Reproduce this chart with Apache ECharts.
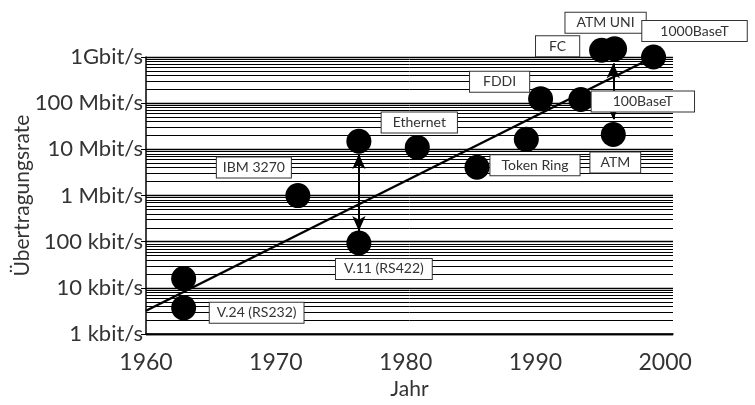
<!DOCTYPE html>
<html>
<head>
<meta charset="utf-8">
<script src="https://cdn.jsdelivr.net/npm/echarts@6/dist/echarts.min.js"></script>
<style>
html,body{margin:0;padding:0;background:#fff;}
#chart{width:755px;height:405px;}
</style>
</head>
<body>
<div id="chart"></div>
<script>
// ---- data ----
const names = ['V.24 (RS232)', '', 'IBM 3270', 'V.11 (RS422)', '', 'Ethernet', 'Token Ring', '', 'FDDI', '100BaseT', 'ATM', 'FC', 'ATM UNI', '1000BaseT'];
const years = [1962.9, 1962.9, 1971.7, 1976.4, 1976.4, 1980.9, 1985.5, 1989.3, 1990.4, 1993.5, 1996.0, 1995.1, 1996.1, 1999.1];
const rates = [3.7e3, 16e3, 1.0e6, 9.4e4, 15e6, 11e6, 4.1e6, 16.5e6, 124e6, 120e6, 21e6, 1.4e9, 1.5e9, 1.0e9];

const trendYears = [1960, 1999.1];
const trendRates = [3.2e3, 1.0e9];

const arrowYears = [1976.4, 1996.0];
const arrowFrom = [1.7e5, 4.5e7];
const arrowTo = [7.9e6, 7.3e8];

const xTicks = [1960, 1970, 1980, 1990, 2000];
const yTickValues = [1e3, 1e4, 1e5, 1e6, 1e7, 1e8, 1e9];
const yTickLabels = ['1 kbit/s', '10 kbit/s', '100 kbit/s', '1 Mbit/s', '10 Mbit/s', '100 Mbit/s', '1Gbit/s'];

// ---- layout (label box offsets / paddings) ----
const labelOffsets = {
  'V.24 (RS232)': [73, 5],
  'IBM 3270': [-44, -28],
  'V.11 (RS422)': [25, 26],
  'Ethernet': [2, -25],
  'Token Ring': [58, -2],
  'FDDI': [-41, -17],
  '100BaseT': [62, 2],
  'ATM': [2, 28],
  'FC': [-44, -4],
  'ATM UNI': [-9, -26],
  '1000BaseT': [41, -26]
};
const labelPadX = {
  'V.24 (RS232)': 7,
  'IBM 3270': 6,
  'V.11 (RS422)': 8,
  'Ethernet': 11,
  'Token Ring': 11,
  'FDDI': 13,
  '100BaseT': 21,
  'ATM': 10,
  'FC': 13,
  'ATM UNI': 11,
  '1000BaseT': 18
};

const FONT = 'Lato, "Open Sans", sans-serif';
const TXT = '#333';

// minor log grid values
const minorGrid = [];
for (let d = 0; d < yTickValues.length - 1; d++) {
  for (let m = 2; m <= 9; m++) minorGrid.push(m * yTickValues[d]);
}

const points = years.map((y, i) => {
  const item = { value: [y, rates[i]] };
  const n = names[i];
  if (n) {
    item.label = {
      show: true,
      formatter: n,
      position: 'inside',
      offset: labelOffsets[n],
      padding: [3, labelPadX[n], 3, labelPadX[n]]
    };
  }
  return item;
});

const chart = echarts.init(document.getElementById('chart'), null, { renderer: 'canvas' });
chart.setOption({
  animation: false,
  backgroundColor: '#fff',
  grid: { left: 146, right: 82, top: 57, bottom: 68, containLabel: false },
  xAxis: {
    type: 'value',
    min: 1960,
    max: 2000.6,
    interval: 10,
    name: 'Jahr',
    nameLocation: 'middle',
    nameGap: 38,
    nameTextStyle: { fontFamily: FONT, fontSize: 21, color: TXT },
    axisLine: { show: true, lineStyle: { color: '#000', width: 1.5 } },
    axisTick: { show: false },
    splitLine: { show: false },
    axisLabel: {
      fontFamily: FONT, fontSize: 23, color: TXT, margin: 17,
      formatter: v => (xTicks.indexOf(Math.round(v * 10) / 10) >= 0 ? String(v) : '')
    }
  },
  yAxis: {
    type: 'log',
    logBase: 10,
    min: 1e3,
    max: 1e9,
    splitNumber: 6,
    name: 'Übertragungsrate',
    nameLocation: 'middle',
    nameGap: 113,
    nameMoveOverlap: false,
    nameTextStyle: { fontFamily: FONT, fontSize: 21, color: TXT },
    axisLine: { show: true, lineStyle: { color: '#000', width: 1.5 } },
    axisTick: { show: true, length: 5, lineStyle: { color: '#000', width: 1 } },
    splitLine: { show: true, lineStyle: { color: '#000', width: 1.3 } },
    axisLabel: {
      fontFamily: FONT, fontSize: 22, color: TXT, margin: 3,
      formatter: v => {
        const k = Math.round(Math.log10(v));
        const idx = yTickValues.findIndex(t => Math.round(Math.log10(t)) === k);
        return idx >= 0 ? yTickLabels[idx] : '';
      }
    }
  },
  series: [
    {
      name: 'grid',
      type: 'line',
      data: [],
      z: 1,
      silent: true,
      markLine: {
        silent: true,
        symbol: 'none',
        label: { show: false },
        lineStyle: { color: '#000', width: 1, type: 'solid', opacity: 1 },
        data: minorGrid.map(v => ({ yAxis: v }))
      }
    },
    {
      name: 'arrows',
      type: 'line',
      data: [],
      z: 3,
      silent: true,
      markLine: {
        silent: true,
        symbol: ['arrow', 'arrow'],
        symbolSize: [10, 15],
        label: { show: false },
        lineStyle: { color: '#000', width: 2, type: 'solid', opacity: 1 },
        data: arrowYears.map((yr, i) => [
          { coord: [yr, arrowFrom[i]] },
          { coord: [yr, arrowTo[i]] }
        ])
      }
    },
    {
      name: 'trend',
      type: 'line',
      z: 4,
      data: trendYears.map((y, i) => [y, trendRates[i]]),
      showSymbol: false,
      symbol: 'none',
      lineStyle: { color: '#000', width: 2.4 }
    },
    {
      name: 'points',
      type: 'scatter',
      z: 5,
      clip: false,
      silent: true,
      symbol: 'circle',
      symbolSize: 25,
      itemStyle: { color: '#000', opacity: 1 },
      emphasis: { disabled: true },
      label: {
        fontFamily: FONT,
        fontSize: 14,
        color: TXT,
        backgroundColor: '#fff',
        borderColor: '#333',
        borderWidth: 1,
        opacity: 1
      },
      data: points
    }
  ]
});
</script>
</body>
</html>
